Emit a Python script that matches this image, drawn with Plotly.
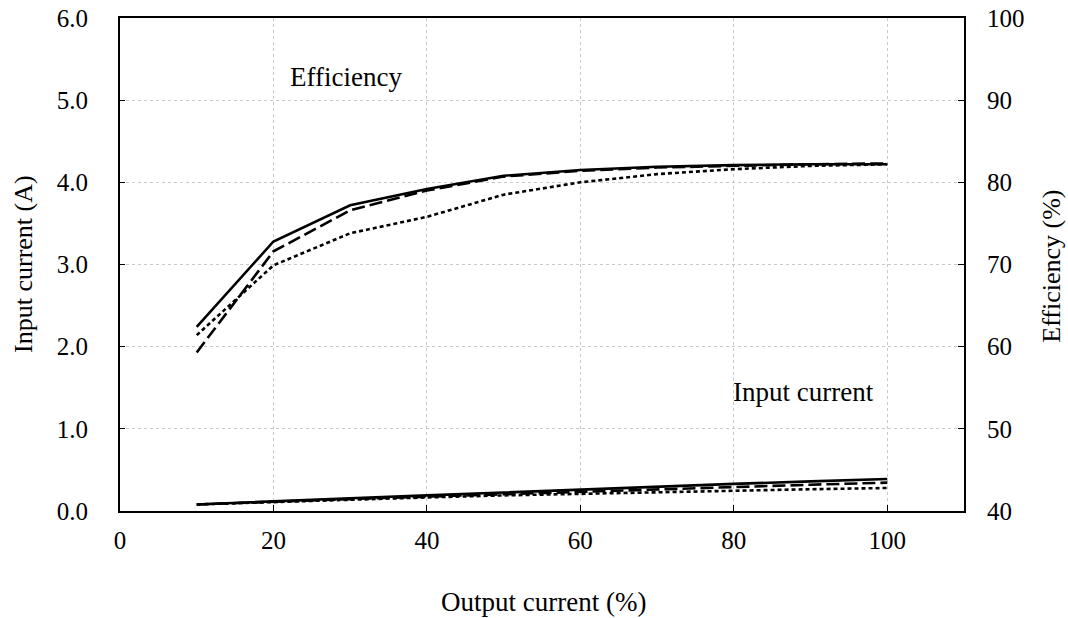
import plotly.graph_objects as go

output_current = [10, 20, 30, 40, 50, 60, 70, 80, 90, 100]

eff_solid = [62.4, 72.8, 77.2, 79.2, 80.8, 81.5, 81.9, 82.1, 82.2, 82.2]
eff_longdash = [59.3, 71.6, 76.6, 79.0, 80.7, 81.4, 81.8, 82.0, 82.2, 82.3]
eff_shortdash = [61.4, 69.9, 73.8, 75.8, 78.5, 80.0, 81.0, 81.6, 82.0, 82.2]

cur_solid = [0.08, 0.12, 0.155, 0.19, 0.225, 0.26, 0.30, 0.33, 0.36, 0.39]
cur_longdash = [0.08, 0.115, 0.145, 0.175, 0.205, 0.235, 0.265, 0.29, 0.32, 0.345]
cur_shortdash = [0.08, 0.11, 0.14, 0.165, 0.19, 0.21, 0.23, 0.25, 0.265, 0.28]

x_ticks = [0, 20, 40, 60, 80, 100]
y_left_ticks = [0, 1, 2, 3, 4, 5, 6]
y_right_ticks = [40, 50, 60, 70, 80, 90, 100]

FONT = "Liberation Serif"
styles = [("solid", 2.6), ("13px,5px", 2.6), ("4px,3px", 2.6)]

fig = go.Figure()
for ys, (dash, w) in zip([cur_solid, cur_longdash, cur_shortdash], styles):
    fig.add_trace(go.Scatter(x=output_current, y=ys, mode="lines",
                             line=dict(color="black", width=w, dash=dash),
                             showlegend=False, yaxis="y"))
for ys, (dash, w) in zip([eff_solid, eff_longdash, eff_shortdash], styles):
    fig.add_trace(go.Scatter(x=output_current, y=ys, mode="lines",
                             line=dict(color="black", width=w, dash=dash),
                             showlegend=False, yaxis="y2"))

grid = dict(showgrid=True, gridcolor="#c8c8c8", griddash="dot", gridwidth=1)
tickfont = dict(family=FONT, size=25, color="black")

fig.update_layout(
    width=1068, height=618,
    margin=dict(l=120, r=104, t=18, b=107),
    paper_bgcolor="white", plot_bgcolor="white",
    font=dict(family=FONT, size=22, color="black"),
    xaxis=dict(range=[0, 110], tickvals=x_ticks, ticks="inside", ticklen=6,
               tickcolor="black", showline=True, linecolor="black", linewidth=2,
               mirror=True, zeroline=False, ticklabelstandoff=6,
               tickfont=tickfont, automargin=False, **grid),
    yaxis=dict(range=[0, 6], tickvals=y_left_ticks, tickformat=".1f",
               ticks="inside", ticklen=5, tickcolor="black",
               showline=True, linecolor="black", linewidth=2, mirror=True,
               zeroline=False, ticklabelstandoff=25, tickfont=tickfont,
               automargin=False, **grid),
    yaxis2=dict(range=[40, 100], tickvals=y_right_ticks, overlaying="y",
                side="right", ticks="inside", ticklen=6, tickcolor="black",
                showline=True, linecolor="black", linewidth=2,
                showgrid=False, zeroline=False, ticklabelstandoff=16,
                tickfont=tickfont, automargin=False),
    annotations=[
        dict(x=29.45, y=5.28, xref="x", yref="y", text="Efficiency", showarrow=False,
             xanchor="center", yanchor="middle", font=dict(family=FONT, size=27)),
        dict(x=89.1, y=1.45, xref="x", yref="y", text="Input current", showarrow=False,
             xanchor="center", yanchor="middle", font=dict(family=FONT, size=27)),
        dict(x=0.502, y=-0.1846, xref="paper", yref="paper", text="Output current (%)",
             xanchor="center", yanchor="middle",
             showarrow=False, font=dict(family=FONT, size=27)),
        dict(x=-0.115, y=0.501, xref="paper", yref="paper", text="Input current (A)",
             xanchor="center", yanchor="middle",
             showarrow=False, textangle=-90, font=dict(family=FONT, size=26)),
        dict(x=1.104, y=0.497, xref="paper", yref="paper", text="Efficiency (%)",
             xanchor="center", yanchor="middle",
             showarrow=False, textangle=-90, font=dict(family=FONT, size=26)),
    ],
)

fig.write_html("out.html")
